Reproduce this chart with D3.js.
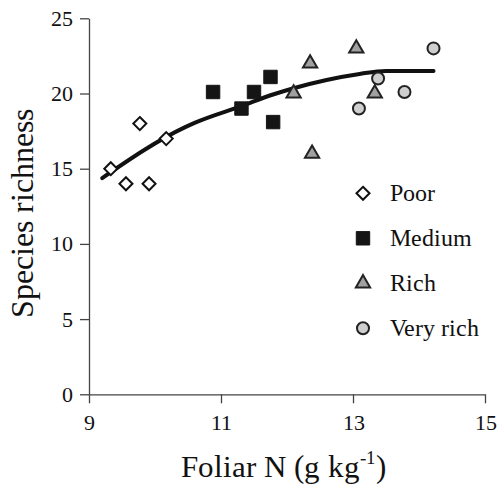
<!DOCTYPE html>
<html>
<head>
<meta charset="utf-8">
<script src="https://cdn.jsdelivr.net/npm/d3@7"></script>
<style>
  @font-face {
    font-family: 'ChartSerif';
    src: local('Liberation Serif'), local('LiberationSerif'), local('LiberationSerif-Regular'),
         local('DejaVu Serif'), local('DejaVuSerif'), local('Times New Roman'),
         local('Nimbus Roman'), local('FreeSerif'), local('Noto Serif'), local('NotoSerif-Regular');
  }
  body { margin: 0; background: #fff; }
  svg { display: block; }
</style>
</head>
<body>
<div id="chart"></div>
<script>
// groups and their points
const groups = ['Poor', 'Medium', 'Rich', 'Very rich'];

const poorN = [9.33, 9.56, 9.77, 9.91, 10.17];
const poorS = [15, 14, 18, 14, 17];

const mediumN = [10.88, 11.31, 11.5, 11.75, 11.79];
const mediumS = [20.1, 19, 20.1, 21.1, 18.1];

const richN = [12.1, 12.35, 12.38, 13.05, 13.33];
const richS = [20, 22, 16, 23, 20];

const veryRichN = [13.09, 13.38, 13.78, 14.22];
const veryRichS = [19, 21, 20.1, 23];

// fitted trend line
const fitN = [9.2, 10.45, 10.6, 11.3, 11.8, 12.1, 12.6, 13.1, 13.5, 14.22];
const fitS = [14.38, 17.75, 18.05, 19.15, 19.95, 20.35, 20.9, 21.3, 21.5, 21.5];

const xTicks = [9, 11, 13, 15];
const yTicks = [0, 5, 10, 15, 20, 25];

const width = 497, height = 484;
const serif = 'ChartSerif, "Liberation Serif", "DejaVu Serif", "Times New Roman", Times, serif';

const svg = d3.select('#chart')
    .append('svg')
    .attr('width', width)
    .attr('height', height)
    .attr('font-family', serif)
    .attr('fill', '#111');

const x = d3.scaleLinear().domain([9, 15]).range([89, 485]);
const y = d3.scaleLinear().domain([0, 25]).range([394.3, 18.3]);

// axes
const xAxis = svg.append('g')
    .attr('transform', `translate(0,${y(0)})`)
    .call(d3.axisBottom(x).tickValues(xTicks).tickFormat(d3.format('d'))
        .tickSize(9).tickSizeOuter(0).tickPadding(11));
const yAxis = svg.append('g')
    .attr('transform', `translate(${x(9)},0)`)
    .call(d3.axisLeft(y).tickValues(yTicks).tickFormat(d3.format('d'))
        .tickSize(9).tickSizeOuter(0).tickPadding(7));

[xAxis, yAxis].forEach(ax => {
    ax.attr('font-family', serif).attr('font-size', 22);
    ax.selectAll('path, line').attr('stroke', '#444').attr('stroke-width', 1.3);
    ax.selectAll('text').attr('fill', '#111');
});

// trend line
const line = d3.line()
    .x(d => x(d[0]))
    .y(d => y(d[1]))
    .curve(d3.curveMonotoneX);

svg.append('path')
    .datum(d3.zip(fitN, fitS))
    .attr('d', line)
    .attr('fill', 'none')
    .attr('stroke', '#111')
    .attr('stroke-width', 4)
    .attr('stroke-linecap', 'round');

// marker styles per group
const styles = {
    'Poor':      {type: d3.symbolDiamond2, size: 108, fill: '#fff',    stroke: '#111', sw: 2},
    'Medium':    {type: d3.symbolSquare,   size: 180, fill: '#151515', stroke: '#151515', sw: 1},
    'Rich':      {type: d3.symbolTriangle, size: 88,  fill: '#a0a0a0', stroke: '#222', sw: 2},
    'Very rich': {type: d3.symbolCircle,   size: 113, fill: '#cfcfcf', stroke: '#222', sw: 2}
};

const series = [
    ['Poor', poorN, poorS],
    ['Medium', mediumN, mediumS],
    ['Rich', richN, richS],
    ['Very rich', veryRichN, veryRichS]
];

series.forEach(([name, ns, ss]) => {
    const st = styles[name];
    const sym = d3.symbol().type(st.type).size(st.size);
    svg.append('g')
        .selectAll('path')
        .data(d3.zip(ns, ss))
        .join('path')
        .attr('transform', d => `translate(${x(d[0])},${y(d[1])})`)
        .attr('d', sym)
        .attr('fill', st.fill)
        .attr('stroke', st.stroke)
        .attr('stroke-width', st.sw);
});

// legend
const legend = svg.append('g').attr('transform', 'translate(363,193.3)');
groups.forEach((name, i) => {
    const st = styles[name];
    const g = legend.append('g').attr('transform', `translate(0,${i * 45})`);
    g.append('path')
        .attr('d', d3.symbol().type(st.type).size(st.size)())
        .attr('fill', st.fill)
        .attr('stroke', st.stroke)
        .attr('stroke-width', st.sw);
    g.append('text')
        .attr('x', 27)
        .attr('y', 7.5)
        .attr('font-size', 23.5)
        .text(name);
});

// axis titles
svg.append('text')
    .attr('transform', 'translate(33,213.5) rotate(-90)')
    .attr('text-anchor', 'middle')
    .attr('font-size', 31.5)
    .text('Species richness');

const xt = svg.append('text')
    .attr('x', 283)
    .attr('y', 477)
    .attr('text-anchor', 'middle')
    .attr('font-size', 31);
xt.append('tspan').text('Foliar N (g kg');
xt.append('tspan').attr('dy', -13).attr('font-size', 19).text('-1');
xt.append('tspan').attr('dy', 13).text(')');
</script>
</body>
</html>
